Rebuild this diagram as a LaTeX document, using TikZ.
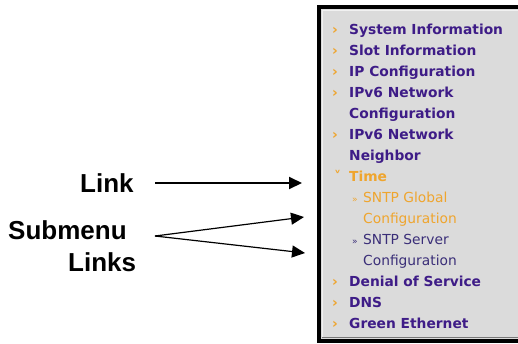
\documentclass[tikz,border=0pt]{standalone}
\usepackage{fontspec}
\setmainfont{Liberation Sans}
\newfontfamily\menufont{DejaVu Sans}
\usetikzlibrary{arrows.meta}
\definecolor{menupurple}{HTML}{3E1C87}
\definecolor{menuorange}{HTML}{EFA52E}
\definecolor{subpurple}{HTML}{3A2E78}
\definecolor{panelgray}{HTML}{DBDBDB}
\begin{document}
\begin{tikzpicture}[x=1pt,y=-1pt,
  lbl/.style={font=\fontsize{26}{26}\selectfont\bfseries, inner sep=0pt, anchor=base west},
  mi/.style={font=\menufont\fontsize{13.8}{13.8}\selectfont\bfseries, text=menupurple, inner sep=0pt, anchor=base west},
  sub/.style={font=\menufont\fontsize{13.8}{13.8}\selectfont, inner sep=0pt, anchor=base west},
  bul/.style={font=\menufont\fontsize{14}{14}\selectfont\bfseries, text=menuorange, inner sep=0pt, anchor=base west},
  thickarrow/.style={draw=black, line width=2pt, -{Triangle[length=13pt,width=12pt]}},
  thinarrow/.style={draw=black, line width=1.2pt, -{Triangle[length=13pt,width=12pt]}}]
\useasboundingbox (0,0) rectangle (518,343);
% panel
\fill[black] (317,5) rectangle (522,343);
\fill[panelgray] (321,9) rectangle (522,339);
\draw[white!60!panelgray, line width=1pt] (322,338) -- (322,10) -- (522,10);
\draw[black!45!panelgray, line width=1pt] (322,337.5) -- (522,337.5);
% menu items
\foreach \i/\name/\txt in {0/m1/System Information,1/m2/Slot Information,2/m3/IP Configuration,3/m4/IPv6 Network,5/m6/IPv6 Network,12/m13/Denial of Service,13/m14/DNS,14/m15/Green Ethernet}{
  \node[bul] (b\name) at (332,34+21*\i) {›};
  \node[mi] (\name) at (349,34+21*\i) {\txt};
}
\node[mi] (m5) at (349,34+21*4) {Configuration};
\node[mi] (m7) at (349,34+21*6) {Neighbor};
\node[bul] (bm8) at (334,34+21*7) {˅};
\node[mi, text=menuorange] (m8) at (349,34+21*7) {Time};
\node[sub, text=menuorange, font=\menufont\fontsize{9}{9}\selectfont] (bm9) at (352,34+21*8) {»};
\node[sub, text=menuorange] (m9) at (363,34+21*8) {SNTP Global};
\node[sub, text=menuorange] (m10) at (363,34+21*9) {Configuration};
\node[sub, text=subpurple, font=\menufont\fontsize{9}{9}\selectfont] (bm11) at (352,34+21*10) {»};
\node[sub, text=subpurple] (m11) at (363,34+21*10) {SNTP Server};
\node[sub, text=subpurple] (m12) at (363,34+21*11) {Configuration};
% labels
\node[lbl] (link) at (80,192) {Link};
\node[lbl] (submenu) at (8,239) {Submenu};
\node[lbl] (links) at (68,271) {Links};
% connectors
\coordinate (linkstart) at (155,183);
\coordinate (linktip) at (302,183);
\coordinate (fan) at (155,236);
\coordinate (tipA) at (304,217);
\coordinate (tipB) at (305,253);
\draw[thickarrow] (linkstart) -- (linktip);
\draw[thinarrow] (fan) -- (tipA);
\draw[thinarrow] (fan) -- (tipB);
\end{tikzpicture}
\end{document}
